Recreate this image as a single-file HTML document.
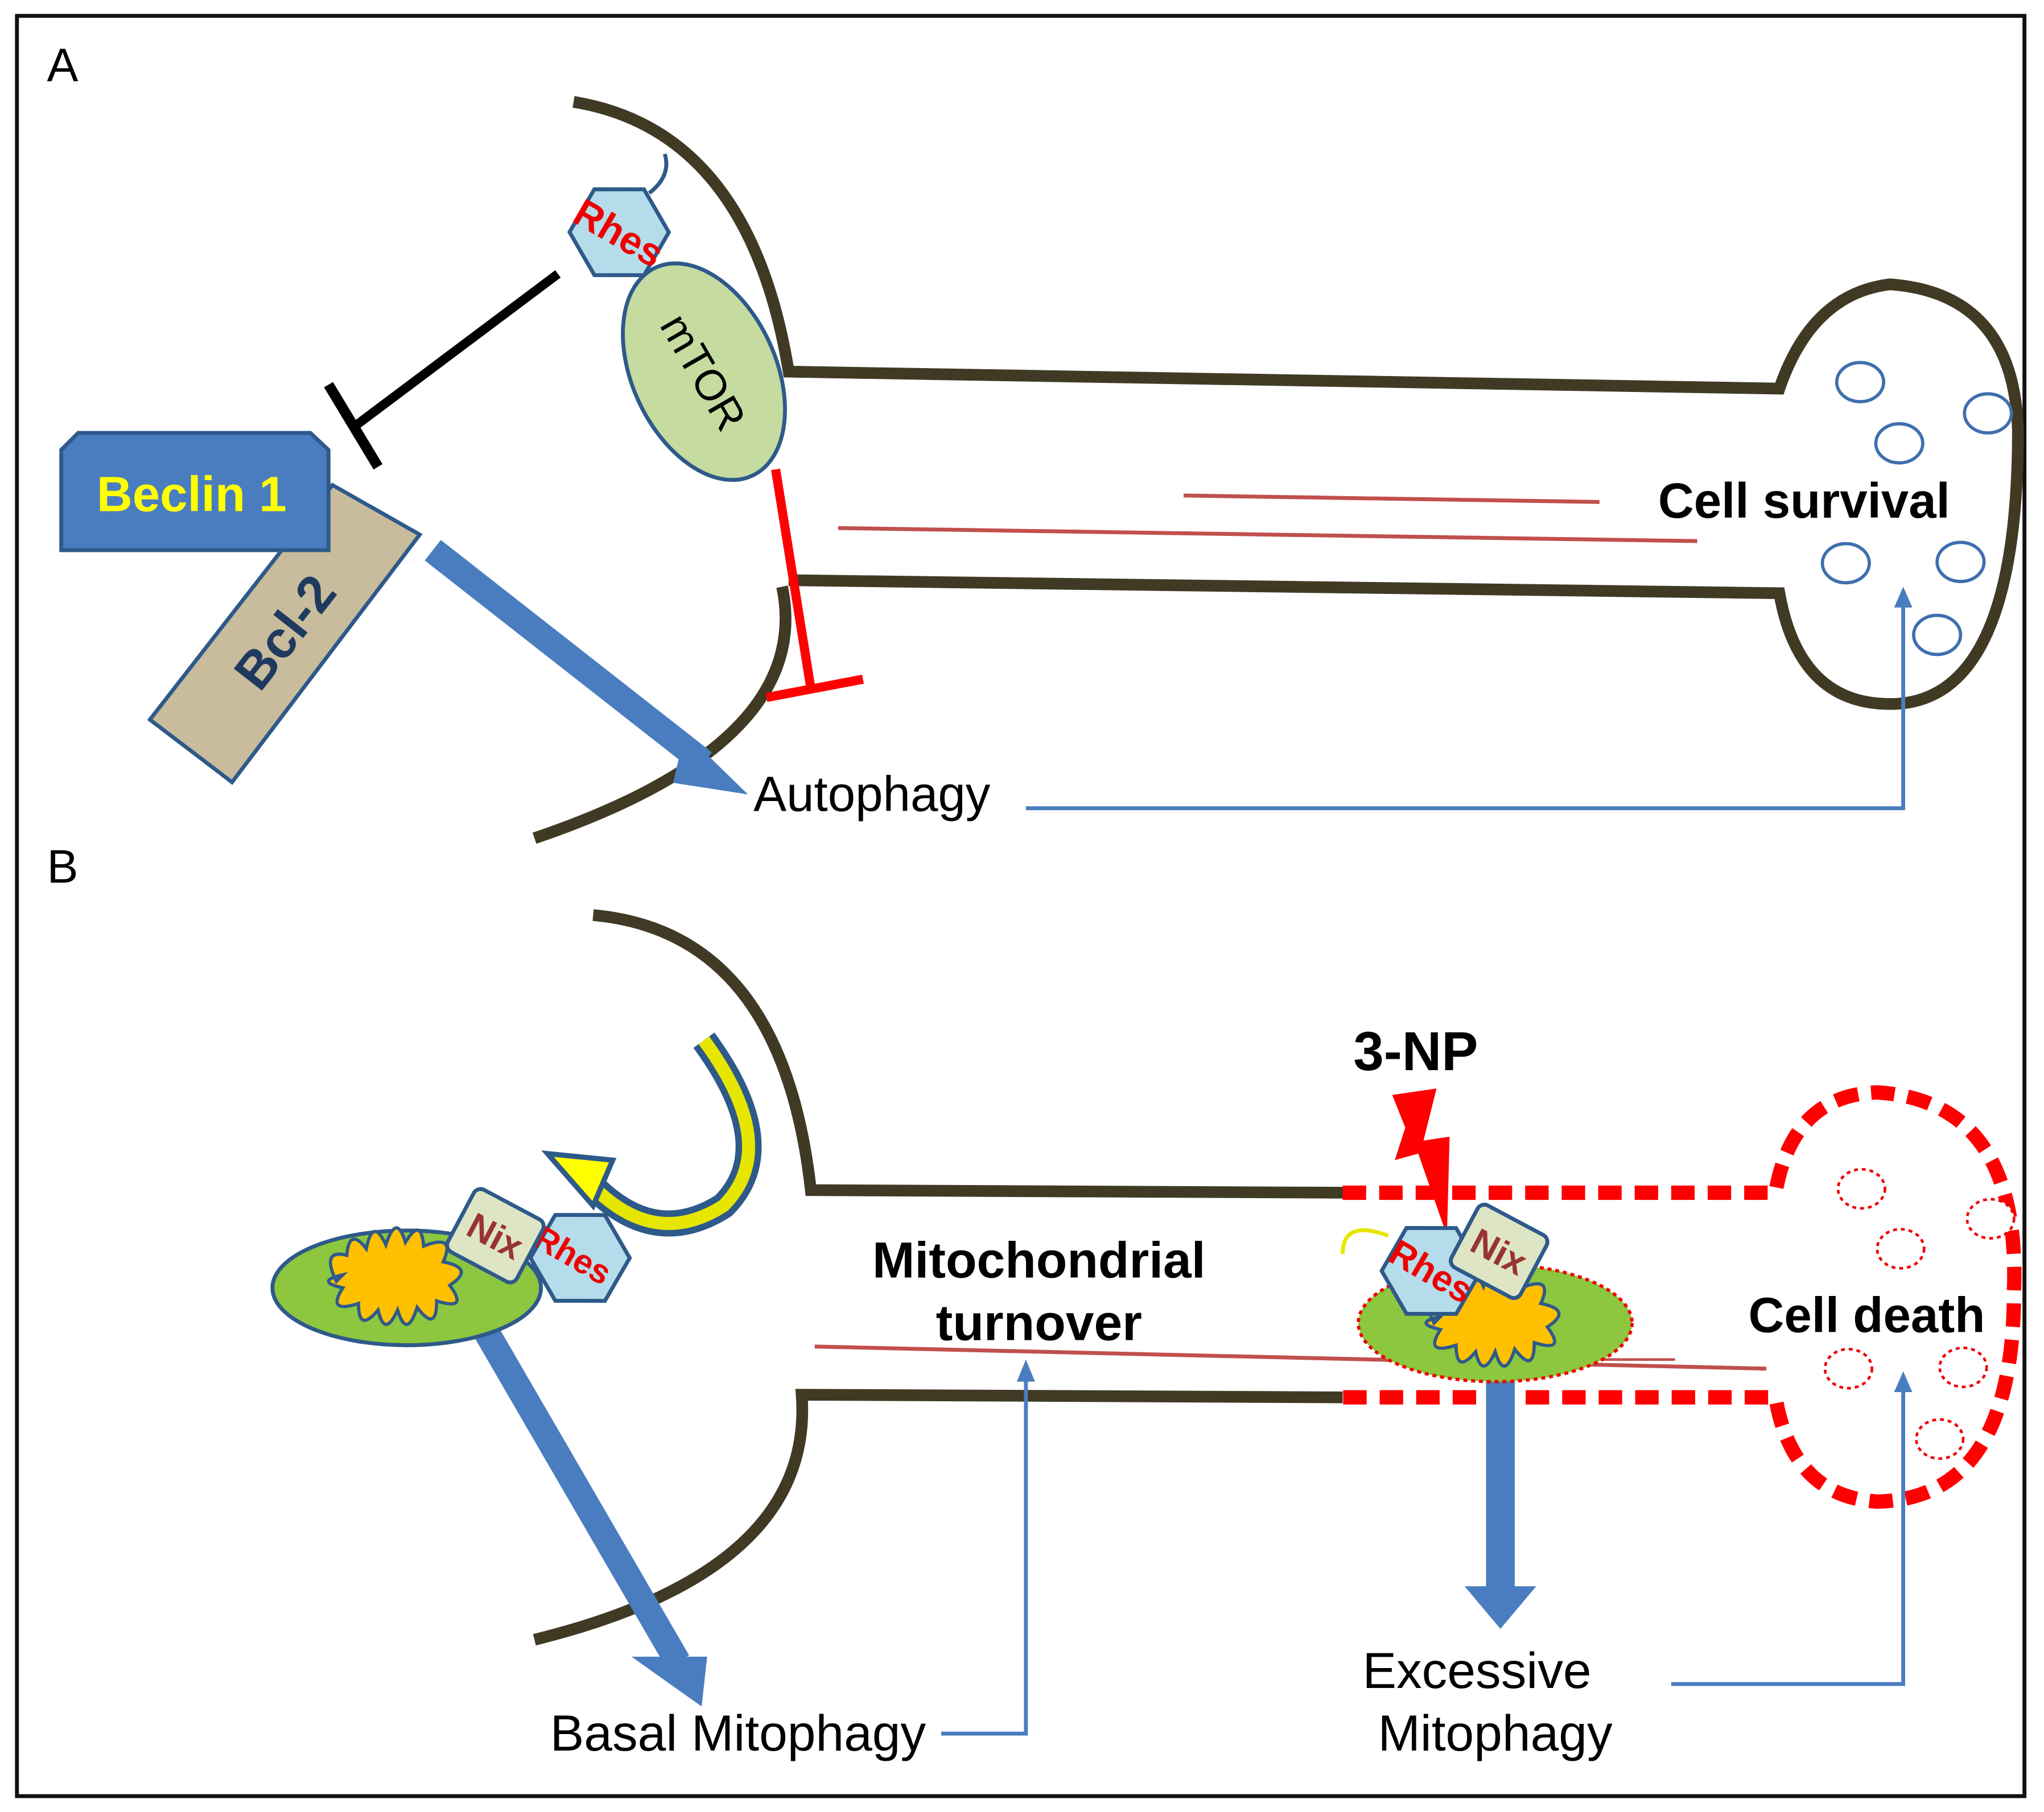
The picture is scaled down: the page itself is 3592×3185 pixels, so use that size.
<!DOCTYPE html>
<html><head><meta charset="utf-8"><style>
html,body{margin:0;padding:0;background:#fff}
svg{display:block}
text{font-family:"Liberation Sans",sans-serif}
</style></head><body>
<svg width="3592" height="3185" viewBox="0 0 1568 1390" xmlns="http://www.w3.org/2000/svg">
<defs>
<g id="hex"><polygon points="0,-38 33,-19 33,19 0,38 -33,19 -33,-19" fill="#b5dcea" stroke="#2e5a8a" stroke-width="3"/></g>
<g id="mito">
<path d="M-60,-5 q-12,-25 8,-20 q2,-22 15,-5 q5,-25 15,-3 q8,-25 15,-2 q12,-20 14,3 q25,-10 15,12 q25,5 5,18 q15,20 -10,12 q0,25 -15,5 q-8,25 -15,2 q-10,22 -15,0 q-15,18 -15,-5 q-25,8 -12,-12 q-22,-5 0,-10z" fill="#ffc000" stroke="#2e5a8a" stroke-width="2.5"/>
</g>
</defs>
<rect x="13" y="12" width="1540" height="1366" fill="#fff" stroke="#111" stroke-width="3"/>
<text x="36" y="62" font-size="36">A</text>
<text x="36" y="677" font-size="36">B</text>

<g fill="none" stroke="#403a25" stroke-width="9">
<path d="M440,78 Q575,100 605,285 L1365,298 Q1390,225 1450,218 Q1545,225 1548,330 Q1548,540 1450,540 Q1380,540 1365,455 L605,445"/>
<path d="M600,450 Q625,570 410,643"/>
</g>
<g stroke="#c0504d" stroke-width="3">
<line x1="908" y1="380" x2="1227" y2="385"/>
<line x1="643" y1="405" x2="1302" y2="415"/>
</g>
<g fill="#fff" stroke="#3f6fae" stroke-width="2.5">
<ellipse cx="1427" cy="293" rx="18" ry="15"/><ellipse cx="1457" cy="340" rx="18" ry="15"/>
<ellipse cx="1525" cy="317" rx="18" ry="15"/><ellipse cx="1416" cy="432" rx="18" ry="15"/>
<ellipse cx="1504" cy="431" rx="18" ry="15"/><ellipse cx="1486" cy="487" rx="18" ry="15"/>
</g>
<text x="1272" y="397" font-size="38" font-weight="bold">Cell survival</text>

<path d="M498,148 Q515,135 510,118" fill="none" stroke="#2e5a8a" stroke-width="3"/>
<ellipse cx="540" cy="285" rx="55" ry="88" transform="rotate(-25 540 285)" fill="#c5dba0" stroke="#2e5a8a" stroke-width="3"/>
<text x="540" y="297" font-size="33" text-anchor="middle" transform="rotate(60 540 285)">mTOR</text>
<g transform="translate(475,178) rotate(30)"><use href="#hex"/><text x="0" y="11" font-size="30" font-weight="bold" fill="#e00" text-anchor="middle">Rhes</text></g>
<line x1="428" y1="210" x2="272" y2="327" stroke="#000" stroke-width="7"/>
<line x1="252" y1="295" x2="290" y2="358" stroke="#000" stroke-width="8"/>
<polygon points="115,552 255,372 322,410 178,600" fill="#c8bc9c" stroke="#2e5a8a" stroke-width="3"/>
<text x="220" y="498" font-size="40" font-weight="bold" fill="#1f3a5f" text-anchor="middle" transform="rotate(-52 220 486)">Bcl-2</text>
<polygon points="60,332 238,332 252,345 252,422 47,422 47,345" fill="#4a7dbf" stroke="#2e5a8a" stroke-width="3"/>
<text x="147" y="392" font-size="38" font-weight="bold" fill="#ffff00" text-anchor="middle">Beclin 1</text>
<line x1="332" y1="422" x2="540" y2="585" stroke="#4a7dbf" stroke-width="20"/>
<polygon points="527,568 565,605 520,598" fill="#4a7dbf" stroke="#4a7dbf" stroke-width="6"/>
<text x="578" y="622" font-size="38">Autophagy</text>
<line x1="595" y1="360" x2="622" y2="528" stroke="#f00" stroke-width="7"/>
<line x1="588" y1="535" x2="662" y2="521" stroke="#f00" stroke-width="7"/>
<polyline points="787,620 1460,620 1460,462" fill="none" stroke="#4a7dbf" stroke-width="3"/>
<polygon points="1453,466 1460,450 1467,466" fill="#4a7dbf"/>

<g fill="none" stroke="#403a25" stroke-width="9">
<path d="M455,702 Q600,715 622,913 L1030,915"/>
<path d="M1030,1072 L615,1070 Q625,1205 410,1258"/>
</g>
<g fill="none" stroke="#f00" stroke-width="11" stroke-dasharray="18 10">
<path d="M1030,915 L1362,915 Q1375,840 1440,838 Q1550,845 1545,990 Q1545,1150 1440,1152 Q1375,1148 1362,1072 L1030,1072"/>
</g>
<g fill="#fff" stroke="#e00" stroke-width="2" stroke-dasharray="3 3">
<ellipse cx="1428" cy="912" rx="18" ry="15"/><ellipse cx="1458" cy="958" rx="18" ry="15"/>
<ellipse cx="1527" cy="935" rx="18" ry="15"/><ellipse cx="1418" cy="1050" rx="18" ry="15"/>
<ellipse cx="1506" cy="1049" rx="18" ry="15"/><ellipse cx="1488" cy="1104" rx="18" ry="15"/>
</g>
<text x="1432" y="1022" font-size="38" font-weight="bold" text-anchor="middle">Cell death</text>
<line x1="625" y1="1033" x2="1355" y2="1050" stroke="#c0504d" stroke-width="3"/>
<line x1="1040" y1="1043" x2="1285" y2="1043" stroke="#c0504d" stroke-width="2"/>
<text x="797" y="980" font-size="39" font-weight="bold" text-anchor="middle">Mitochondrial</text>
<text x="797" y="1028" font-size="39" font-weight="bold" text-anchor="middle">turnover</text>

<path d="M540,798 Q600,880 555,925 Q500,960 450,905" fill="none" stroke="#2e5a8a" stroke-width="20"/>
<path d="M540,798 Q600,880 555,925 Q500,960 450,905" fill="none" stroke="#e6e600" stroke-width="10"/>
<polygon points="420,885 470,890 455,925" fill="#ffff00" stroke="#2e5a8a" stroke-width="4"/>
<line x1="372" y1="1020" x2="520" y2="1275" stroke="#4a7dbf" stroke-width="20"/>
<polygon points="497,1275 538,1275 535,1302" fill="#4a7dbf" stroke="#4a7dbf" stroke-width="8"/>
<ellipse cx="312" cy="988" rx="103" ry="44" fill="#8dc63f" stroke="#2e5a8a" stroke-width="3"/>
<use href="#mito" x="318" y="988"/>
<g transform="translate(445,965) rotate(30)"><use href="#hex"/><text x="-6" y="10" font-size="26" font-weight="bold" fill="#e00" text-anchor="middle">Rhes</text></g>
<g transform="translate(380,948) rotate(28)"><rect x="-30" y="-27" width="60" height="54" rx="6" fill="#dde5c5" stroke="#2e5a8a" stroke-width="3"/><text x="0" y="10" font-size="28" font-weight="bold" fill="#993333" text-anchor="middle">Nix</text></g>
<text x="422" y="1343" font-size="39">Basal Mitophagy</text>
<polyline points="722,1330 787,1330 787,1055" fill="none" stroke="#4a7dbf" stroke-width="3"/>
<polygon points="780,1060 787,1043 794,1060" fill="#4a7dbf"/>

<text x="1086" y="821" font-size="42" font-weight="bold" text-anchor="middle">3-NP</text>
<polygon points="1068,840 1102,835 1092,875 1112,872 1110,948 1088,885 1070,890 1078,865" fill="#f00"/>
<rect x="1140" y="1045" width="22" height="175" fill="#4a7dbf"/>
<polygon points="1130,1220 1172,1220 1151,1245" fill="#4a7dbf" stroke="#4a7dbf" stroke-width="6"/>
<ellipse cx="1147" cy="1015" rx="105" ry="45" fill="#8dc63f" stroke="#e00" stroke-width="2.5" stroke-dasharray="3 3"/>
<use href="#mito" x="1160" y="1020"/>
<path d="M1030,962 Q1030,935 1065,948" fill="none" stroke="#e6e600" stroke-width="3"/>
<g transform="translate(1098,975) rotate(30)"><use href="#hex"/><text x="0" y="10" font-size="28" font-weight="bold" fill="#e00" text-anchor="middle">Rhes</text></g>
<g transform="translate(1150,960) rotate(28)"><rect x="-30" y="-27" width="60" height="54" rx="6" fill="#dde5c5" stroke="#2e5a8a" stroke-width="3"/><text x="0" y="10" font-size="28" font-weight="bold" fill="#993333" text-anchor="middle">Nix</text></g>
<text x="1133" y="1295" font-size="39" text-anchor="middle">Excessive</text>
<text x="1147" y="1343" font-size="39" text-anchor="middle">Mitophagy</text>
<polyline points="1282,1292 1460,1292 1460,1065" fill="none" stroke="#4a7dbf" stroke-width="3"/>
<polygon points="1453,1068 1460,1052 1467,1068" fill="#4a7dbf"/>
</svg>
</body></html>
